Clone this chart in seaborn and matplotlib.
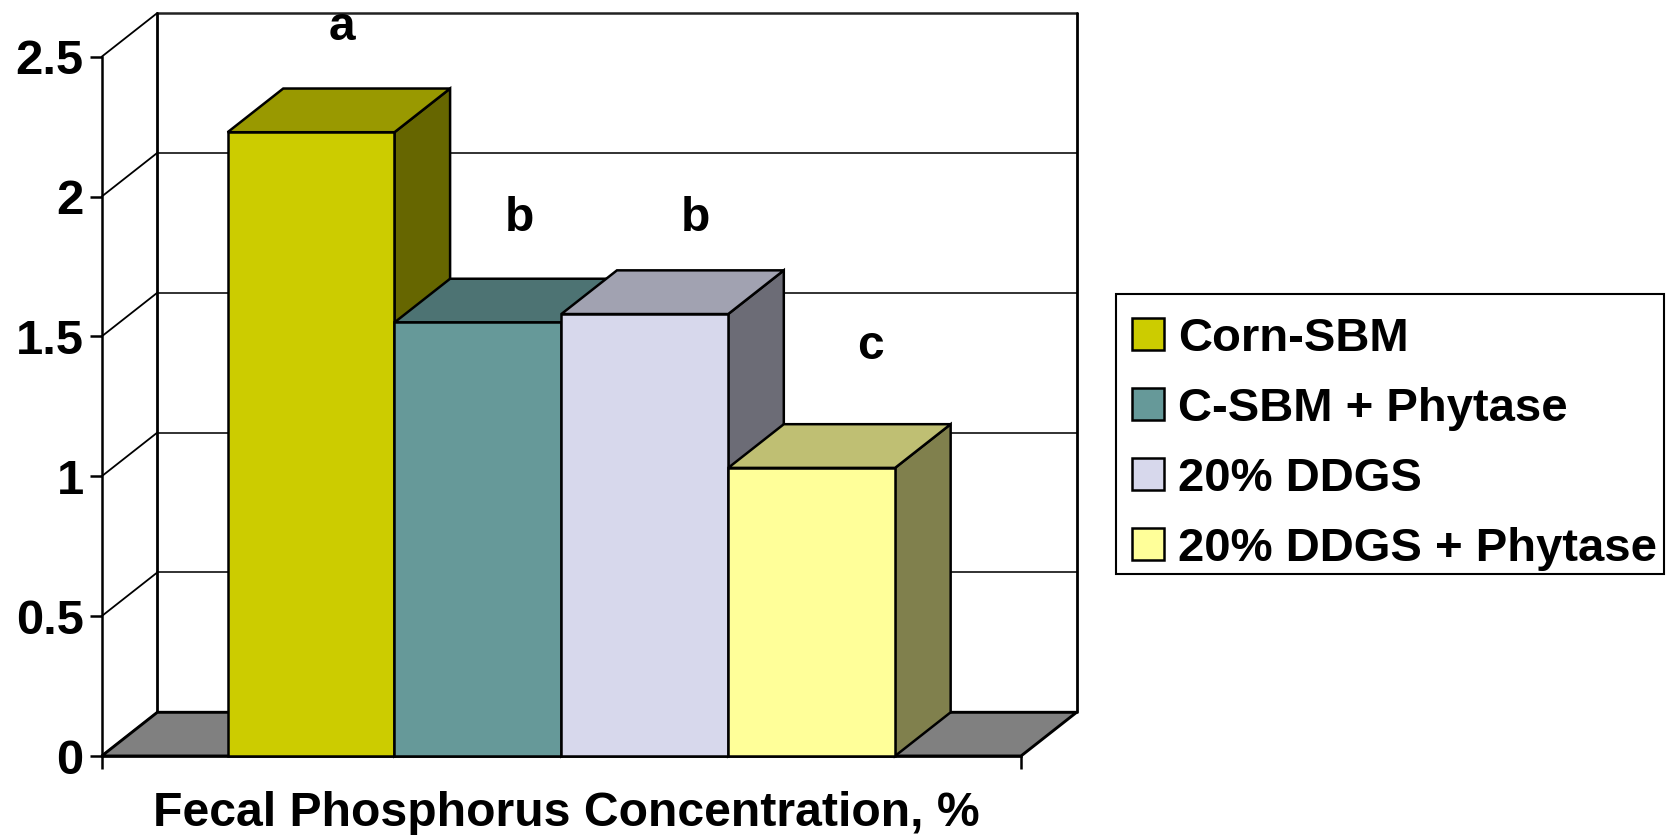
import matplotlib
matplotlib.use("Agg")
import matplotlib.pyplot as plt
import matplotlib.colors as mcolors
from matplotlib.patches import Polygon, Rectangle
import pandas as pd
import seaborn as sns

# ---- data ----
group = "Fecal Phosphorus Concentration, %"
diets = ["Corn-SBM", "C-SBM + Phytase", "20% DDGS", "20% DDGS + Phytase"]
values = [2.23, 1.55, 1.58, 1.03]
colors = ["#CCCC00", "#669999", "#D7D8EC", "#FFFF99"]
sig_letters = ["a", "b", "b", "c"]
sig_x = [-0.2386, -0.045, 0.1454, 0.3365]
sig_y = [2.56, 1.877, 1.877, 1.42]
y_ticks = [0, 0.5, 1, 1.5, 2, 2.5]
y_tick_labels = ["0", "0.5", "1", "1.5", "2", "2.5"]

W, H = 1667, 835
sns.set_theme(style="white")
plt.rcParams["font.family"] = ["Liberation Sans", "DejaVu Sans"]
plt.rcParams["font.weight"] = "bold"

fig = plt.figure(figsize=(W / 100, H / 100), dpi=100, facecolor="white")
L, R, T, B = 101.7, 1021.0, 56.7, 756.0
ax = fig.add_axes([L / W, 1 - B / H, (R - L) / W, (B - T) / H])
ax.set_facecolor("white")

df = pd.DataFrame({"group": [group] * 4, "diet": diets, "value": values})
LW = 1.8
sns.barplot(data=df, x="group", y="value", hue="diet", hue_order=diets,
            palette=colors, saturation=1, width=0.726, gap=0, dodge=True,
            edgecolor="black", linewidth=LW, errorbar=None, ax=ax)
ax.set_xlim(-0.5, 0.5)
ax.set_ylim(0, 2.5)

DX = 55.6 / (R - L)           # depth of the 3-D box, x data units
DY = 43.7 / ((B - T) / 2.5)   # depth of the 3-D box, y data units

# back wall, side wall and floor
for t in y_ticks:
    grid_lw = 1.3
    ax.plot([-0.5, -0.5 + DX], [t, t + DY], color="black", lw=grid_lw,
            clip_on=False, zorder=1, solid_capstyle="round")
    if t > 0:
        ax.plot([-0.5 + DX, 0.5 + DX], [t + DY, t + DY], color="#222222",
                lw=LW if t == 2.5 else grid_lw, clip_on=False, zorder=1)
for xb in (-0.5 + DX, 0.5 + DX):
    ax.plot([xb, xb], [DY, 2.5 + DY], color="black", lw=LW + 0.2, clip_on=False, zorder=1)
ax.add_patch(Polygon([(-0.5, 0), (0.5, 0), (0.5 + DX, DY), (-0.5 + DX, DY)],
                     closed=True, facecolor="#808080", edgecolor="black",
                     lw=LW + 0.3, clip_on=False, zorder=1.5))

# depth faces for each bar built from the bars seaborn drew
for i, container in enumerate(ax.containers):
    bar = container[0]
    x0, w, h = bar.get_x(), bar.get_width(), bar.get_height()
    rgb = mcolors.to_rgb(colors[i])
    z = 3 + i
    bar.set_zorder(z + 0.2)
    bar.set_clip_on(False)
    top = [(x0, h), (x0 + w, h), (x0 + w + DX, h + DY), (x0 + DX, h + DY)]
    side = [(x0 + w, 0), (x0 + w + DX, DY), (x0 + w + DX, h + DY), (x0 + w, h)]
    ax.add_patch(Polygon(side, closed=True, clip_on=False, zorder=z,
                         facecolor=tuple(c * 0.5 for c in rgb), edgecolor="black", lw=LW))
    ax.add_patch(Polygon(top, closed=True, clip_on=False, zorder=z + 0.1,
                         facecolor=tuple(c * 0.75 for c in rgb), edgecolor="black", lw=LW))

for xs, ys, s in zip(sig_x, sig_y, sig_letters):
    ax.text(xs, ys, s, ha="center", va="baseline", fontsize=34.5, fontweight="bold",
            color="black", zorder=10, clip_on=False)

# axes
sns.despine(ax=ax, top=True, right=True)
for side_name in ("left", "bottom"):
    ax.spines[side_name].set_color("black")
    ax.spines[side_name].set_linewidth(LW)
    ax.spines[side_name].set_zorder(2)
ax.set_yticks(y_ticks, y_tick_labels)
ax.set_xticks([-0.5, 0.5], ["", ""])
ax.tick_params(axis="y", length=9, width=LW, color="black", pad=4,
               left=True, labelsize=35.3, labelcolor="black")
ax.tick_params(axis="x", length=9, width=LW, color="black", bottom=True)
ax.set_ylabel("")
ax.set_xlabel(group, fontsize=34.7, fontweight="bold", color="black", labelpad=15)
ax.xaxis.set_label_coords((566 - L) / (R - L), -(826 - B) / (B - T), transform=ax.transAxes)
ax.xaxis.label.set_va("baseline")

# legend: box drawn separately (below the axes) because its inner margins are not symmetric
fig.add_artist(Rectangle((1116 / W, 1 - 574 / H), (1664 - 1116) / W, (574 - 294.5) / H,
                         transform=fig.transFigure, facecolor="white",
                         edgecolor="black", lw=1.5, zorder=-1))
sns.move_legend(ax, "upper left", bbox_to_anchor=(1131.8 / W, 1 - 316.7 / H),
                bbox_transform=fig.transFigure, title=None, frameon=False,
                fontsize=34, handlelength=0.68, handleheight=0.66, handletextpad=0.295,
                labelspacing=0.55, borderpad=0, borderaxespad=0)
leg = ax.get_legend()
leg.set_zorder(20)
for txt in leg.get_texts():
    txt.set_fontweight("bold")
    txt.set_color("black")

fig.savefig("out.png", dpi=100, facecolor="white")
